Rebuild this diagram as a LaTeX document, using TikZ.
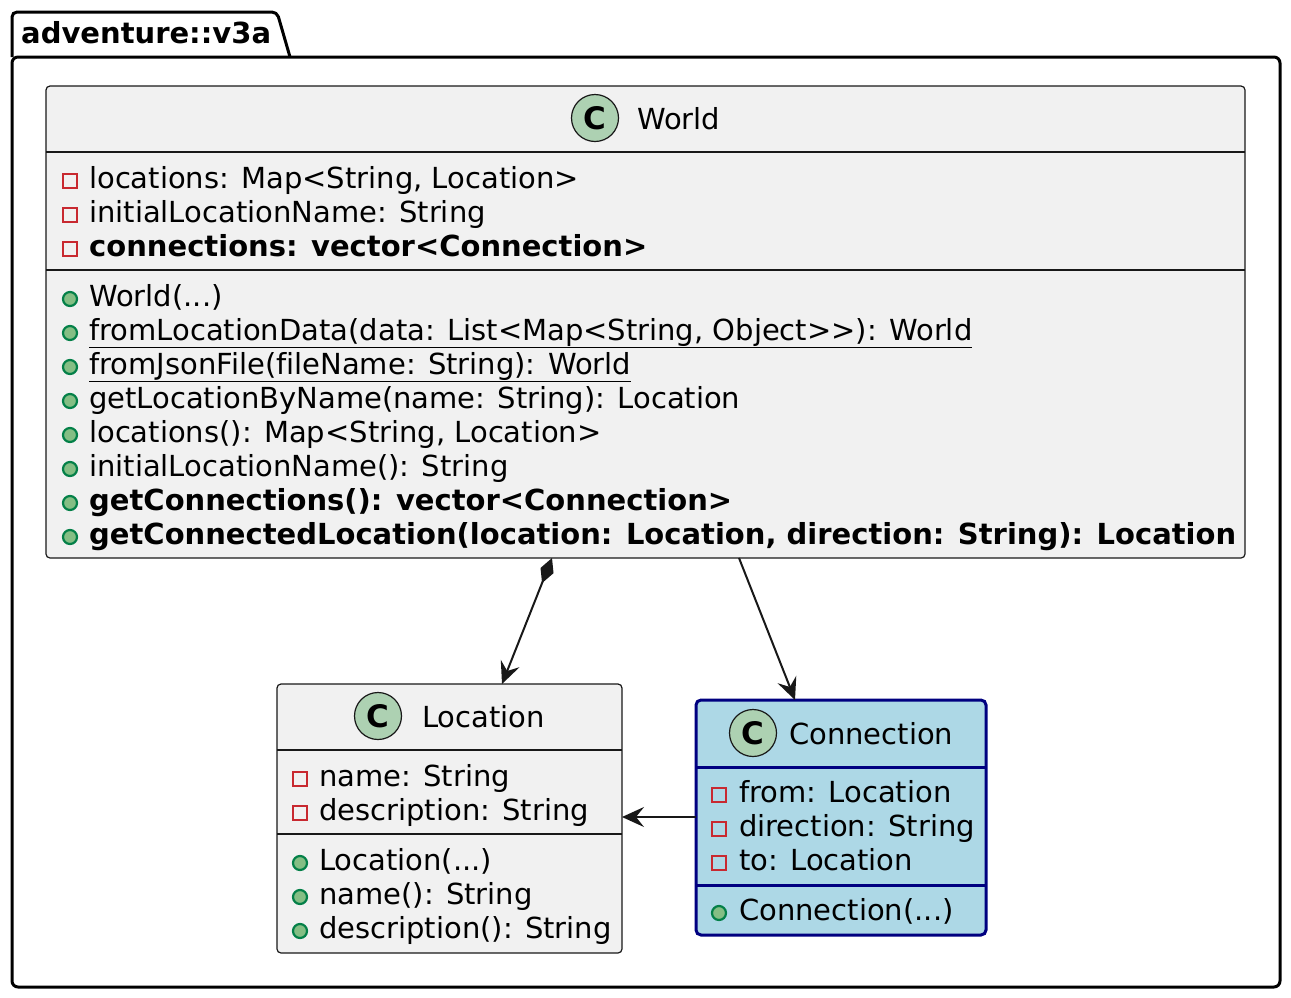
\documentclass[tikz,border=0pt]{standalone}
\usepackage{fontspec}
\setmainfont{DejaVu Sans}[Ligatures={NoCommon,NoRequired,NoContextual}]
\usetikzlibrary{arrows.meta}
\definecolor{boxfill}{HTML}{F1F1F1}
\definecolor{boxline}{HTML}{181818}
\definecolor{circfill}{HTML}{ADD1B2}
\definecolor{privred}{HTML}{C82930}
\definecolor{pubfill}{HTML}{84BE84}
\definecolor{publine}{HTML}{038048}
\definecolor{connfill}{HTML}{ADD8E6}
\definecolor{connline}{HTML}{000080}
\newcommand{\umlfont}{\fontsize{29}{34}\selectfont}
\newcommand{\privat}[2]{\draw[privicon] (#1-7,#2-7) rectangle (#1+7,#2+7);}
\newcommand{\pubat}[2]{\draw[pubicon] (#1,#2) circle[radius=7pt];}
\tikzset{
  classbox/.style={draw=boxline, fill=boxfill, line width=1.2pt, rounded corners=4pt, anchor=north west, inner sep=0pt, outer sep=0pt},
  connbox/.style={draw=connline, fill=connfill, line width=3pt, rounded corners=5pt, anchor=north west, inner sep=0pt, outer sep=0pt},
  divider/.style={draw=boxline, line width=1.2pt},
  cdivider/.style={draw=connline, line width=3pt},
  cicon/.style={circle, draw=boxline, fill=circfill, line width=1.2pt, minimum size=47pt, inner sep=0pt, font=\fontsize{31}{31}\selectfont\bfseries},
  txt/.style={anchor=base west, inner sep=0pt, font=\umlfont, text=black},
  btxt/.style={txt, font=\umlfont\bfseries},
  privicon/.style={draw=privred, line width=2.2pt},
  pubicon/.style={draw=publine, fill=pubfill, line width=2.2pt},
  conn/.style={draw=boxline, line width=2pt},
  tip/.tip={Stealth[length=22pt,width=20pt,inset=8pt]},
  dtip/.tip={Diamond[length=27pt,width=14pt]},
}
\begin{document}
\begin{tikzpicture}[x=1pt,y=-1pt]
\useasboundingbox (0,0) rectangle (1291,997);
% package
\draw[line width=3pt, rounded corners=5pt, fill=white] (12,57) -- (12,12) -- (277,12) -- (290,57);
\draw[line width=3pt, rounded corners=6pt] (12,57) rectangle (1280,987);
\node[anchor=base west, inner sep=0pt, font=\umlfont\bfseries] (pkg) at (21,43) {adventure::v3a};

% World
\node[classbox, minimum width=1199pt, minimum height=472pt] (world) at (46,86) {};
\node[cicon] (world-c) at (595,118) {C};
\node[txt] (world-t) at (637,129) {World};
\draw[divider] (46,152) -- (1245,152);
\draw[divider] (46,270) -- (1245,270);
\privat{70}{181} \node[txt] (wa1) at (89,188) {locations: Map<String, Location>};
\privat{70}{215} \node[txt] (wa2) at (89,222) {initialLocationName: String};
\privat{70}{249} \node[btxt] (wa3) at (89,256) {connections: vector<Connection>};
\pubat{70}{299} \node[txt] (wm1) at (89,306) {World(...)};
\pubat{70}{333} \node[txt] (wm2) at (89,340) {\underline{fromLocationData(data: List<Map<String, Object>\kern0pt>): World}};
\pubat{70}{367} \node[txt] (wm3) at (89,374) {\underline{fromJsonFile(f\kern0pt ileName: String): World}};
\pubat{70}{401} \node[txt] (wm4) at (89,408) {getLocationByName(name: String): Location};
\pubat{70}{435} \node[txt] (wm5) at (89,442) {locations(): Map<String, Location>};
\pubat{70}{469} \node[txt] (wm6) at (89,476) {initialLocationName(): String};
\pubat{70}{503} \node[btxt] (wm7) at (89,510) {getConnections(): vector<Connection>};
\pubat{70}{537} \node[btxt] (wm8) at (89,544) {getConnectedLocation(location: Location, direction: String): Location};

% Location
\node[classbox, minimum width=345pt, minimum height=269pt] (loc) at (277,684) {};
\node[cicon] (loc-c) at (378,716) {C};
\node[txt] (loc-t) at (422,727) {Location};
\draw[divider] (277,750) -- (622,750);
\draw[divider] (277,834) -- (622,834);
\privat{300}{779} \node[txt] (la1) at (319,786) {name: String};
\privat{300}{813} \node[txt] (la2) at (319,820) {description: String};
\pubat{300}{863} \node[txt] (lm1) at (319,870) {Location(...)};
\pubat{300}{897} \node[txt] (lm2) at (319,904) {name(): String};
\pubat{300}{931} \node[txt] (lm3) at (319,938) {description(): String};

% Connection
\node[connbox, minimum width=290pt, minimum height=235pt] (con) at (696,700) {};
\node[cicon] (con-c) at (753,733) {C};
\node[txt] (con-t) at (789,744) {Connection};
\draw[cdivider] (696,767) -- (986,767);
\draw[cdivider] (696,885) -- (986,885);
\privat{719}{795} \node[txt] (ca1) at (739,802) {from: Location};
\privat{719}{829} \node[txt] (ca2) at (739,836) {direction: String};
\privat{719}{863} \node[txt] (ca3) at (739,870) {to: Location};
\pubat{719}{913} \node[txt] (cm1) at (739,920) {Connection(...)};

% connectors
\draw[conn, dtip-tip] ([xshift=506pt]world.south west) -- ([xshift=225pt]loc.north west);
\draw[conn, -tip] ([xshift=693pt]world.south west) -- ([xshift=99pt]con.north west);
\draw[conn, -tip] ([yshift=-117pt]con.north west) -- ([yshift=-133pt]loc.north east);
\end{tikzpicture}
\end{document}
